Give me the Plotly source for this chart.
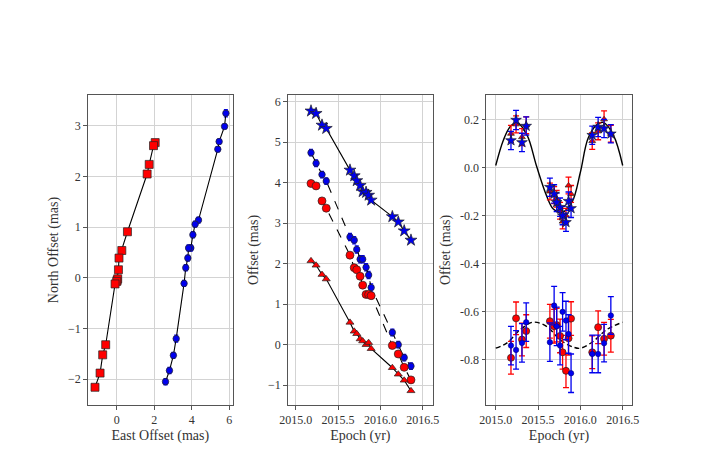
import plotly.graph_objects as go

# ---------------- data ----------------
epochs = [2015.18, 2015.24, 2015.31, 2015.36, 2015.64, 2015.69, 2015.72, 2015.76,
          2015.79, 2015.83, 2015.86, 2015.89, 2016.14, 2016.21, 2016.28, 2016.36]

# Left panel: sky-plane positions
red_east = [2.05, 1.96, 1.73, 1.62, 0.57, 0.27, 0.12, 0.09, 0.02, 0.05, 0.0, -0.09, -0.59, -0.75, -0.89, -1.16]
red_north = [2.67, 2.61, 2.24, 2.05, 0.91, 0.54, 0.39, 0.16, -0.05, -0.02, -0.07, -0.12, -1.32, -1.52, -1.88, -2.16]
blue_east = [5.82, 5.75, 5.46, 5.39, 4.36, 4.18, 4.06, 3.95, 3.83, 3.79, 3.68, 3.59, 3.17, 3.02, 2.81, 2.60]
blue_north = [3.25, 2.99, 2.69, 2.54, 1.14, 1.06, 0.85, 0.59, 0.59, 0.39, 0.20, -0.11, -1.20, -1.53, -1.83, -2.05]
blue_north_err = [0.07, 0.05, 0.05, 0.05, 0.06, 0.06, 0.06, 0.06, 0.06, 0.06, 0.06, 0.06, 0.07, 0.06, 0.06, 0.06]

# Middle panel: offsets vs epoch
mid_star = [5.77, 5.71, 5.42, 5.34, 4.31, 4.17, 4.05, 3.93, 3.78, 3.76, 3.69, 3.57, 3.16, 3.03, 2.81, 2.58]
mid_blue = [4.74, 4.48, 4.20, 4.04, 2.66, 2.58, 2.35, 2.11, 2.11, 1.91, 1.72, 1.41, 0.30, 0.00, -0.32, -0.53]
mid_red = [3.98, 3.92, 3.55, 3.37, 2.21, 1.90, 1.85, 1.69, 1.47, 1.24, 1.24, 1.21, -0.02, -0.23, -0.56, -0.87]
mid_tri = [2.07, 1.96, 1.73, 1.62, 0.55, 0.33, 0.27, 0.14, 0.09, 0.00, 0.05, -0.10, -0.57, -0.73, -0.88, -1.14]
mid_err = [0.08, 0.08, 0.08, 0.08, 0.09, 0.09, 0.09, 0.09, 0.09, 0.09, 0.09, 0.09, 0.08, 0.08, 0.08, 0.08]

# Right panel: residual offsets
r_tri = [0.140, 0.179, 0.126, 0.175, -0.100, -0.115, -0.130, -0.180, -0.225, -0.200, -0.075, -0.110, 0.110, 0.150, 0.200, 0.140]
r_tri_err = [0.035, 0.035, 0.035, 0.035, 0.035, 0.035, 0.035, 0.035, 0.030, 0.030, 0.035, 0.035, 0.035, 0.035, 0.035, 0.035]
r_star = [0.112, 0.197, 0.104, 0.172, -0.082, -0.110, -0.145, -0.165, -0.200, -0.228, -0.140, -0.170, 0.134, 0.168, 0.162, 0.140]
r_star_err = [0.038, 0.040, 0.038, 0.038, 0.038, 0.038, 0.038, 0.038, 0.038, 0.038, 0.038, 0.038, 0.038, 0.040, 0.038, 0.038]
r_red = [-0.791, -0.627, -0.715, -0.680, -0.639, -0.660, -0.655, -0.700, -0.768, -0.845, -0.710, -0.628, -0.768, -0.664, -0.712, -0.699]
r_red_err = [0.068, 0.068, 0.068, 0.068, 0.070, 0.070, 0.070, 0.070, 0.070, 0.070, 0.070, 0.070, 0.068, 0.068, 0.068, 0.068]
r_blue = [-0.740, -0.758, -0.729, -0.643, -0.726, -0.574, -0.660, -0.740, -0.600, -0.636, -0.692, -0.855, -0.775, -0.775, -0.730, -0.615]
r_blue_err = [0.080, 0.080, 0.080, 0.080, 0.080, 0.080, 0.080, 0.080, 0.080, 0.080, 0.080, 0.080, 0.078, 0.078, 0.078, 0.078]

# Model curves
model_t = [2015.0, 2015.09, 2015.17, 2015.25, 2015.37, 2015.48, 2015.60, 2015.68,
           2015.78, 2015.90, 2016.0, 2016.09, 2016.19, 2016.27, 2016.39, 2016.5]
model_par = [0.008, 0.113, 0.169, 0.187, 0.134, 0.008, -0.117, -0.173,
             -0.187, -0.145, -0.020, 0.120, 0.176, 0.187, 0.134, 0.008]
model2_t = [2015.0, 2015.13, 2015.29, 2015.44, 2015.60, 2015.76, 2015.92, 2016.0, 2016.15, 2016.31, 2016.5]
model2_v = [-0.751, -0.730, -0.674, -0.643, -0.660, -0.716, -0.747, -0.751, -0.723, -0.674, -0.643]

# ---------------- styling ----------------
FONT = "Liberation Serif"
RED = "#ff0000"
BLUE = "#0000ee"
EDGE = dict(color="#222222", width=0.7)

fig = go.Figure()

def err(arr, color, w=3, th=1.3):
    return dict(type="data", array=arr, color=color, thickness=th, width=w, visible=True)

# Left panel
fig.add_trace(go.Scatter(x=red_east, y=red_north, mode="lines+markers",
                         line=dict(color="black", width=1.1),
                         marker=dict(symbol="square", size=8, color=RED, line=EDGE),
                         xaxis="x", yaxis="y", showlegend=False))
fig.add_trace(go.Scatter(x=blue_east, y=blue_north, mode="lines+markers",
                         line=dict(color="black", width=1.1),
                         error_y=err(blue_north_err, BLUE, w=2),
                         marker=dict(symbol="circle", size=6.5, color=BLUE, line=EDGE),
                         xaxis="x", yaxis="y", showlegend=False))

# Middle panel
fig.add_trace(go.Scatter(x=epochs, y=mid_star, mode="lines+markers",
                         line=dict(color="black", width=1.1),
                         marker=dict(symbol="star", size=9, color=BLUE, line=EDGE),
                         xaxis="x2", yaxis="y2", showlegend=False))
fig.add_trace(go.Scatter(x=epochs, y=mid_blue, mode="lines+markers",
                         line=dict(color="black", width=1.1, dash="dash"),
                         error_y=err(mid_err, BLUE, w=2),
                         marker=dict(symbol="circle", size=6.5, color=BLUE, line=EDGE),
                         xaxis="x2", yaxis="y2", showlegend=False))
fig.add_trace(go.Scatter(x=epochs, y=mid_red, mode="lines+markers",
                         line=dict(color="black", width=1.1, dash="dash"),
                         marker=dict(symbol="circle", size=8, color=RED, line=EDGE),
                         xaxis="x2", yaxis="y2", showlegend=False))
fig.add_trace(go.Scatter(x=epochs, y=mid_tri, mode="lines+markers",
                         line=dict(color="black", width=1.1),
                         marker=dict(symbol="triangle-up", size=7, color=RED, line=EDGE),
                         xaxis="x2", yaxis="y2", showlegend=False))

# Right panel
fig.add_trace(go.Scatter(x=model_t, y=model_par, mode="lines", line=dict(color="black", width=1.4, shape="spline"),
                         xaxis="x3", yaxis="y3", showlegend=False))
fig.add_trace(go.Scatter(x=model2_t, y=model2_v, mode="lines",
                         line=dict(color="black", width=1.4, dash="5px,3px", shape="spline"),
                         xaxis="x3", yaxis="y3", showlegend=False))
fig.add_trace(go.Scatter(x=epochs, y=r_tri, mode="markers",
                         error_y=err(r_tri_err, RED),
                         marker=dict(symbol="triangle-up", size=6, color=RED, line=EDGE),
                         xaxis="x3", yaxis="y3", showlegend=False))
fig.add_trace(go.Scatter(x=epochs, y=r_star, mode="markers",
                         error_y=err(r_star_err, BLUE),
                         marker=dict(symbol="star", size=8, color=BLUE, line=EDGE),
                         xaxis="x3", yaxis="y3", showlegend=False))
fig.add_trace(go.Scatter(x=epochs, y=r_red, mode="markers",
                         error_y=err(r_red_err, RED),
                         marker=dict(symbol="circle", size=7, color=RED, line=EDGE),
                         xaxis="x3", yaxis="y3", showlegend=False))
fig.add_trace(go.Scatter(x=epochs, y=r_blue, mode="markers",
                         error_y=err(r_blue_err, BLUE),
                         marker=dict(symbol="circle", size=5.5, color=BLUE, line=dict(color="#000066", width=0.5)),
                         xaxis="x3", yaxis="y3", showlegend=False))

# Page has an 8px body margin: figure is smaller and positions are shifted
OFF = 8
W, H = 702 - 2 * OFF, 455 - 2 * OFF

def dx(px):
    return (px - OFF) / W

def dy(px):
    return 1 - (px - OFF) / H

top, bot = dy(95), dy(405)

axis_common = dict(showgrid=True, gridcolor="#d3d3d3", gridwidth=1, automargin=False,
                   showline=True, linecolor="#555555", linewidth=1, mirror=True,
                   ticks="outside", ticklen=3.5, tickcolor="#555555", tickwidth=1,
                   zeroline=False, tickfont=dict(family=FONT, size=12, color="#333333"),
                   title_font=dict(family=FONT, size=14, color="#333333"))

fig.update_layout(
    width=W, height=H,
    margin=dict(l=0, r=0, t=0, b=0, autoexpand=False),
    paper_bgcolor="white", plot_bgcolor="white",
    font=dict(family=FONT, color="#333333"),
    xaxis=dict(axis_common, domain=[dx(87.7), dx(233)], range=[-1.55, 6.2],
               tickvals=[0, 2, 4, 6], anchor="y",
               title=dict(text="East Offset (mas)", standoff=4)),
    yaxis=dict(axis_common, domain=[bot, top], range=[-2.51, 3.61],
               tickvals=[-2, -1, 0, 1, 2, 3], anchor="x",
               title=dict(text="North Offset (mas)", standoff=6)),
    xaxis2=dict(axis_common, domain=[dx(287.7), dx(433)], range=[2014.905, 2016.62],
                tickvals=[2015.0, 2015.5, 2016.0, 2016.5], tickformat=".1f", anchor="y2",
                title=dict(text="Epoch (yr)", standoff=4)),
    yaxis2=dict(axis_common, domain=[bot, top], range=[-1.49, 6.165],
                tickvals=[-1, 0, 1, 2, 3, 4, 5, 6], anchor="x2",
                title=dict(text="Offset (mas)", standoff=6)),
    xaxis3=dict(axis_common, domain=[dx(486), dx(632)], range=[2014.885, 2016.61],
                tickvals=[2015.0, 2015.5, 2016.0, 2016.5], tickformat=".1f", anchor="y3",
                title=dict(text="Epoch (yr)", standoff=4)),
    yaxis3=dict(axis_common, domain=[bot, top], range=[-0.987, 0.301],
                tickvals=[0.2, 0.0, -0.2, -0.4, -0.6, -0.8],
                ticktext=["0.2", "0.0", "-0.2", "-0.4", "-0.6", "-0.8"], anchor="x3",
                title=dict(text="Offset (mas)", standoff=6)),
)

fig.write_html("out.html")
